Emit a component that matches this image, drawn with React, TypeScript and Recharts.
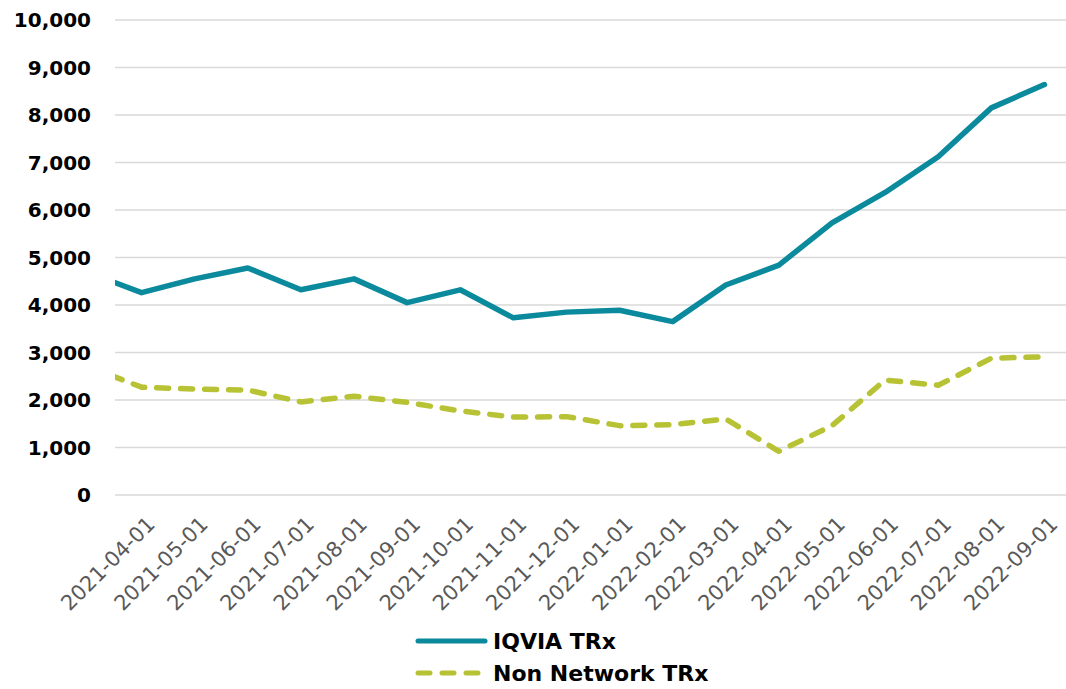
import {
  CartesianGrid,
  Legend,
  Line,
  LineChart,
  XAxis,
  YAxis,
} from "recharts";

// first month sits just left of the visible axis; its segment is clipped at the edge
const months = [
  "2021-03-01",
  "2021-04-01",
  "2021-05-01",
  "2021-06-01",
  "2021-07-01",
  "2021-08-01",
  "2021-09-01",
  "2021-10-01",
  "2021-11-01",
  "2021-12-01",
  "2022-01-01",
  "2022-02-01",
  "2022-03-01",
  "2022-04-01",
  "2022-05-01",
  "2022-06-01",
  "2022-07-01",
  "2022-08-01",
  "2022-09-01",
];

const iqviaTrx = [
  4680, 4260, 4550, 4780, 4320, 4550, 4050, 4320, 3730, 3850, 3890, 3650, 4420,
  4840, 5730, 6370, 7120, 8150, 8640,
];

const nonNetworkTrx = [
  2700, 2270, 2230, 2210, 1960, 2080, 1950, 1770, 1640, 1650, 1460, 1480, 1600,
  920, 1460, 2420, 2310, 2880, 2910,
];

const yTicks = [0, 1000, 2000, 3000, 4000, 5000, 6000, 7000, 8000, 9000, 10000];
const xTicks = months.map((_, i) => i).slice(1);

const TEAL = "#0a8a9c";
const GREEN = "#b8c235";

const data = months.map((m, i) => ({
  idx: i,
  month: m,
  iqvia: iqviaTrx[i],
  nonNetwork: nonNetworkTrx[i],
}));

function LegendBox() {
  const rows = [
    { name: "IQVIA TRx", color: TEAL, dash: undefined as string | undefined },
    { name: "Non Network TRx", color: GREEN, dash: "12 12" },
  ];
  return (
    <div style={{ height: 64 }}>
      {rows.map((r) => (
        <div
          key={r.name}
          style={{
            display: "flex",
            alignItems: "center",
            height: 32,
            fontFamily: "DejaVu Sans",
            fontWeight: "bold",
            fontSize: 22,
            color: "#000",
          }}
        >
          <svg width={78} height={12}>
            <line
              x1={3}
              y1={6}
              x2={70}
              y2={6}
              stroke={r.color}
              strokeWidth={5}
              strokeLinecap="round"
              strokeDasharray={r.dash}
            />
          </svg>
          <span>{r.name}</span>
        </div>
      ))}
    </div>
  );
}

export default function App() {
  return (
    <div style={{ width: 1066, height: 689, overflow: "hidden", background: "#fff" }}>
      <style>{`body{margin:0}`}</style>
      <LineChart
        width={1072}
        height={689}
        data={data}
        margin={{ top: 20, right: 1, left: 15, bottom: 0 }}
      >
        <CartesianGrid vertical={false} stroke="#d9d9d9" strokeWidth={1.5} />
        <XAxis
          dataKey="idx"
          type="number"
          domain={[0.5, 18.5]}
          allowDataOverflow
          ticks={xTicks}
          interval={0}
          tickFormatter={(v: number) => months[v] ?? ""}
          axisLine={false}
          tickLine={false}
          tickMargin={14}
          angle={-45}
          textAnchor="end"
          height={130}
          tick={{ fontFamily: "DejaVu Sans", fontSize: 21, fill: "#595959", dx: 4 }}
        />
        <YAxis
          domain={[0, 10000]}
          ticks={yTicks}
          interval={0}
          tickFormatter={(v: number) => v.toLocaleString("en-US")}
          axisLine={false}
          tickLine={false}
          tickMargin={18}
          width={100}
          tick={{
            fontFamily: "DejaVu Sans",
            fontWeight: "bold",
            fontSize: 20,
            fill: "#000",
          }}
        />
        <Legend
          verticalAlign="bottom"
          layout="vertical"
          align="center"
          content={() => <LegendBox />}
          wrapperStyle={{ left: 415, top: 625 }}
        />
        <Line
          type="linear"
          dataKey="iqvia"
          name="IQVIA TRx"
          stroke={TEAL}
          strokeWidth={5.5}
          strokeLinecap="round"
          strokeLinejoin="round"
          dot={false}
          activeDot={false}
          isAnimationActive={false}
        />
        <Line
          type="linear"
          dataKey="nonNetwork"
          name="Non Network TRx"
          stroke={GREEN}
          strokeWidth={5.5}
          strokeDasharray="12 12"
          strokeLinecap="round"
          strokeLinejoin="round"
          dot={false}
          activeDot={false}
          isAnimationActive={false}
        />
      </LineChart>
    </div>
  );
}
